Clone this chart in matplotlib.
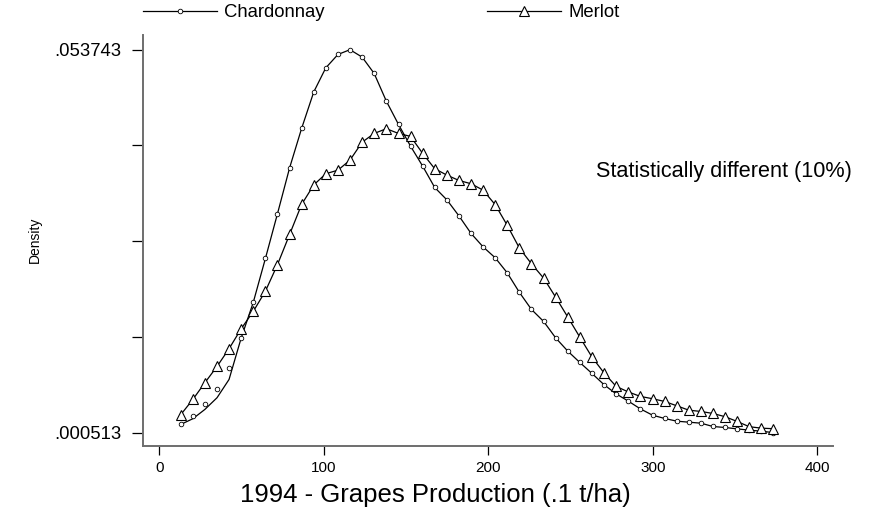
import matplotlib
matplotlib.use("Agg")
import matplotlib.pyplot as plt
from matplotlib.lines import Line2D

# kdensity evaluation grid (.1 t/ha), shared by both varieties
grid = [13.0, 20.4, 27.7, 35.1, 42.4, 49.8, 57.1, 64.5, 71.8, 79.2,
        86.5, 93.9, 101.2, 108.6, 115.9, 123.3, 130.6, 138.0, 145.4, 152.7,
        160.1, 167.4, 174.8, 182.1, 189.5, 196.8, 204.2, 211.5, 218.9, 226.2,
        233.6, 240.9, 248.3, 255.6, 263.0, 270.4, 277.7, 285.1, 292.4, 299.8,
        307.1, 314.5, 321.8, 329.2, 336.5, 343.9, 351.2, 358.6, 365.9, 373.3]

chardonnay = [0.00165, 0.00276, 0.00451, 0.00656, 0.00944, 0.01369, 0.01861, 0.02473, 0.03092, 0.03732,
              0.04280, 0.04788, 0.05122, 0.05308, 0.053743, 0.05271, 0.05044, 0.04659, 0.04335, 0.04034,
              0.03755, 0.03459, 0.03287, 0.03065, 0.02820, 0.02634, 0.02481, 0.02272, 0.02000, 0.01764,
              0.01597, 0.01369, 0.01184, 0.01027, 0.00874, 0.00716, 0.00590, 0.00489, 0.00382, 0.00294,
              0.00249, 0.00211, 0.00197, 0.00183, 0.00137, 0.00123, 0.00104, 0.00086, 0.00072, 0.000513]

# smoothed curve sits below the points in the left tail
chardonnay_curve_head = [0.00165, 0.00245, 0.00374, 0.00537, 0.00791]

merlot = [0.00300, 0.00513, 0.00745, 0.00972, 0.01218, 0.01496, 0.01736, 0.02018, 0.02385, 0.02806,
          0.03223, 0.03495, 0.03650, 0.03700, 0.03839, 0.04089, 0.04210, 0.04276, 0.04210, 0.04169,
          0.03932, 0.03720, 0.03631, 0.03557, 0.03511, 0.03422, 0.03219, 0.02932, 0.02616, 0.02399,
          0.02199, 0.01935, 0.01657, 0.01379, 0.01101, 0.00879, 0.00694, 0.00617, 0.00555, 0.00523,
          0.00485, 0.00425, 0.00364, 0.00346, 0.00318, 0.00273, 0.00207, 0.00134, 0.00114, 0.00106]

y_min, y_max = 0.000513, 0.053743
x_ticks = [0, 100, 200, 300, 400]

plt.rcParams["font.family"] = ["Liberation Sans", "DejaVu Sans"]

fig = plt.figure(figsize=(8.7, 5.25), dpi=100)
ax = fig.add_axes([0.164, 0.1505, 0.7935, 0.7829])

chard_curve = chardonnay_curve_head + chardonnay[len(chardonnay_curve_head):]
ax.plot(grid, chard_curve, color="black", lw=0.9)
ax.plot(grid, chardonnay, ls="none", marker="o", ms=3.3, mfc="white", mec="black", mew=0.6)
ax.plot(grid, merlot, color="black", lw=0.9, marker="^", ms=6.5, mfc="white", mec="black", mew=0.8)

ax.set_xlim(-10.1, 409.5)
ax.set_ylim(-0.00134, 0.05579)

step = (y_max - y_min) / 4
ax.set_yticks([y_min + k * step for k in range(5)])
ax.set_yticklabels([".000513", "", "", "", ".053743"])
ax.set_xticks(x_ticks)
ax.set_xticklabels([str(t) for t in x_ticks])

for side in ["top", "right"]:
    ax.spines[side].set_visible(False)
for side in ["left", "bottom"]:
    ax.spines[side].set_color("#6e6e6e")
    ax.spines[side].set_linewidth(1.4)

ax.tick_params(axis="y", length=8, width=0.9, color="black", labelsize=13.3, pad=7)
ax.tick_params(axis="x", length=6.5, width=0.9, color="black", labelsize=11, pad=4)

ax.text(0.657, 0.667, "Statistically different (10%)", transform=ax.transAxes,
        fontsize=15.6, ha="left", va="center")

fig.text(35 / 870, 1 - 240 / 525, "Density", rotation=90, fontsize=10,
         ha="center", va="center")
fig.text(435 / 870, 1 - 495 / 525, "1994 - Grapes Production (.1 t/ha)",
         fontsize=18.5, ha="center", va="center")

handles = [
    Line2D([], [], color="black", lw=0.9, marker="o", ms=3.3, mfc="white", mec="black", mew=0.6),
    Line2D([], [], color="black", lw=0.9, marker="^", ms=6.5, mfc="white", mec="black", mew=0.8),
]
fig.legend(handles, ["Chardonnay", "Merlot"], ncol=2, loc="upper left",
           bbox_to_anchor=(143 / 870, 1 - 4 / 525), frameon=False, numpoints=1,
           fontsize=13.3, handlelength=4.0, handletextpad=0.4, columnspacing=8.8,
           borderpad=0, borderaxespad=0)

fig.savefig("out.png", dpi=100)
